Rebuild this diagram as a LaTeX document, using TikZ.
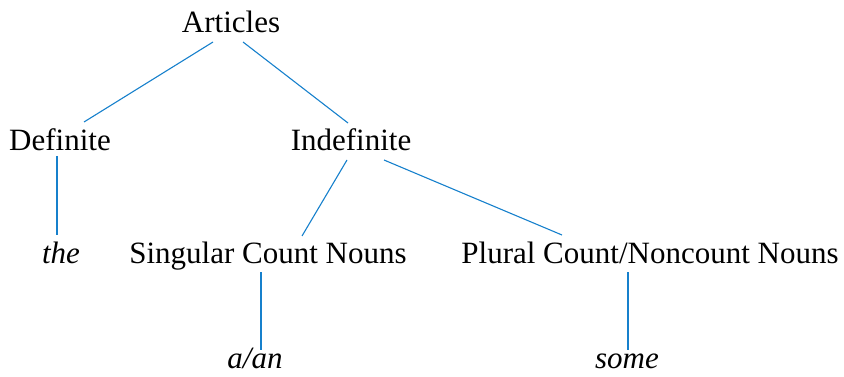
\documentclass[tikz,border=0pt]{standalone}
\usepackage{fontspec}
\setmainfont{Liberation Serif}
\definecolor{linkblue}{RGB}{22,128,204}
\begin{document}
\begin{tikzpicture}[x=1pt,y=-1pt,
  lbl/.style={anchor=base,inner sep=0pt,font=\fontsize{31}{37}\selectfont},
  ital/.style={lbl,font=\fontsize{31}{37}\selectfont\itshape},
  conn/.style={draw=linkblue,line width=1.1pt}]
\useasboundingbox (0,0) rectangle (844,377);
\node[lbl] (art) at (231,33) {Articles};
\node[lbl] (def) at (60,151) {Definite};
\node[lbl] (ind) at (351,151) {Indefinite};
\node[ital] (the) at (61,263) {the};
\node[lbl] (sing) at (268,263) {Singular Count Nouns};
\node[lbl] (plur) at (650,263) {Plural Count/Noncount Nouns};
\node[ital] (aan) at (255,368) {a/an};
\node[ital] (some) at (627,368) {some};
\draw[conn] ([shift={(-18,9)}]art.base) -- ([shift={(24,-29)}]def.base);
\draw[conn] ([shift={(12,9)}]art.base) -- ([shift={(-3,-28)}]ind.base);
\draw[conn] ([shift={(-3,5)}]def.base) -- ([shift={(-4,-28)}]the.base);
\draw[conn] ([shift={(-4,9)}]ind.base) -- ([shift={(34,-27)}]sing.base);
\draw[conn] ([shift={(33,9)}]ind.base) -- ([shift={(-88,-28)}]plur.base);
\draw[conn] ([shift={(-7,9)}]sing.base) -- ([shift={(6,-18)}]aan.base);
\draw[conn] ([shift={(-22,9)}]plur.base) -- ([shift={(1,-18)}]some.base);
\end{tikzpicture}
\end{document}
